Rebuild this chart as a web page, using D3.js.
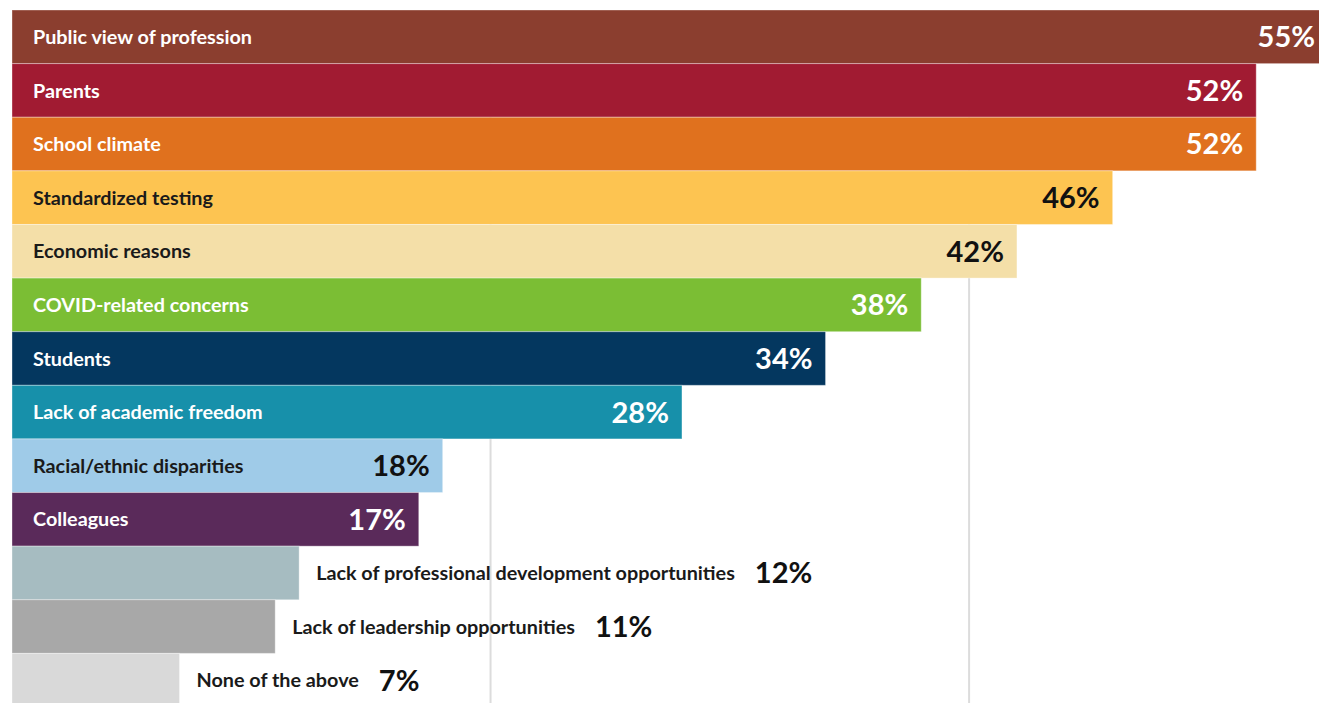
<!DOCTYPE html>
<html>
<head>
<meta charset="utf-8">
<script src="https://cdn.jsdelivr.net/npm/d3@7"></script>
<style>
  html, body { margin: 0; padding: 0; background: #fff; overflow: hidden; }
  svg { display: block; font-family: Lato, "Open Sans", sans-serif; }
</style>
</head>
<body>
<div id="canvas"></div>
<script>
var categories = [
	"Public view of profession", "Parents", "School climate", "Standardized testing",
	"Economic reasons", "COVID-related concerns", "Students", "Lack of academic freedom",
	"Racial/ethnic disparities", "Colleagues", "Lack of professional development opportunities",
	"Lack of leadership opportunities", "None of the above"
];
var values = [55, 52, 52, 46, 42, 38, 34, 28, 18, 17, 12, 11, 7];
var colors = [
	"#8b3e2f", "#a11b32", "#e0711e", "#fdc451", "#f4dfa8", "#7bbe34", "#04375f",
	"#1790aa", "#9fcbe8", "#5a2a5a", "#a6bcc1", "#a8a8a8", "#d9d9d9"
];
// dark text on light bars
var darkText = [false, false, false, true, true, false, false, false, true, false, true, true, true];
// labels placed outside the bar (bar too short)
var outside = [false, false, false, false, false, false, false, false, false, false, true, true, true];
var gridTicks = [20, 40];

var width = 1319, height = 703;
var svg = d3.select("#canvas").append("svg").attr("width", width).attr("height", height);

var x = d3.scaleLinear().domain([0, 55]).range([12, 1328]);
var y = d3.scaleBand().domain(categories).range([10, 707]).padding(0);

// gridlines behind bars
svg.selectAll("line.grid").data(gridTicks).enter().append("line")
	.attr("class", "grid")
	.attr("x1", function(d) { return x(d); })
	.attr("x2", function(d) { return x(d); })
	.attr("y1", 10).attr("y2", height)
	.attr("stroke", "#dcdcdc")
	.attr("stroke-width", 2);

var rows = svg.selectAll("g.row").data(categories).enter().append("g").attr("class", "row");

rows.append("rect")
	.attr("x", x(0))
	.attr("y", function(d) { return y(d); })
	.attr("width", function(d, i) { return x(values[i]) - x(0); })
	.attr("height", y.bandwidth())
	.attr("fill", function(d, i) { return colors[i]; })
	.attr("stroke", "rgba(255,255,255,0.35)")
	.attr("stroke-width", 1);

// category labels
var labels = rows.append("text")
	.attr("x", function(d, i) { return outside[i] ? x(values[i]) + 17 : 33; })
	.attr("y", function(d) { return y(d) + y.bandwidth() / 2; })
	.attr("dy", "0.36em")
	.style("font-size", "19.8px")
	.style("font-weight", "bold")
	.style("fill", function(d, i) { return darkText[i] ? "#1a1a1a" : "#fff"; })
	.text(function(d) { return d; });

// value labels
rows.append("text")
	.attr("x", function(d, i) {
		if (outside[i]) {
			var w = labels.nodes()[i].getComputedTextLength();
			return x(values[i]) + 17 + w + 20;
		}
		return x(values[i]) - 13;
	})
	.attr("y", function(d) { return y(d) + y.bandwidth() / 2; })
	.attr("dy", "0.36em")
	.attr("text-anchor", function(d, i) { return outside[i] ? "start" : "end"; })
	.style("font-size", "29px")
	.style("font-weight", "bold")
	.style("fill", function(d, i) { return darkText[i] ? "#111" : "#fff"; })
	.text(function(d, i) { return values[i] + "%"; });
</script>
</body>
</html>
